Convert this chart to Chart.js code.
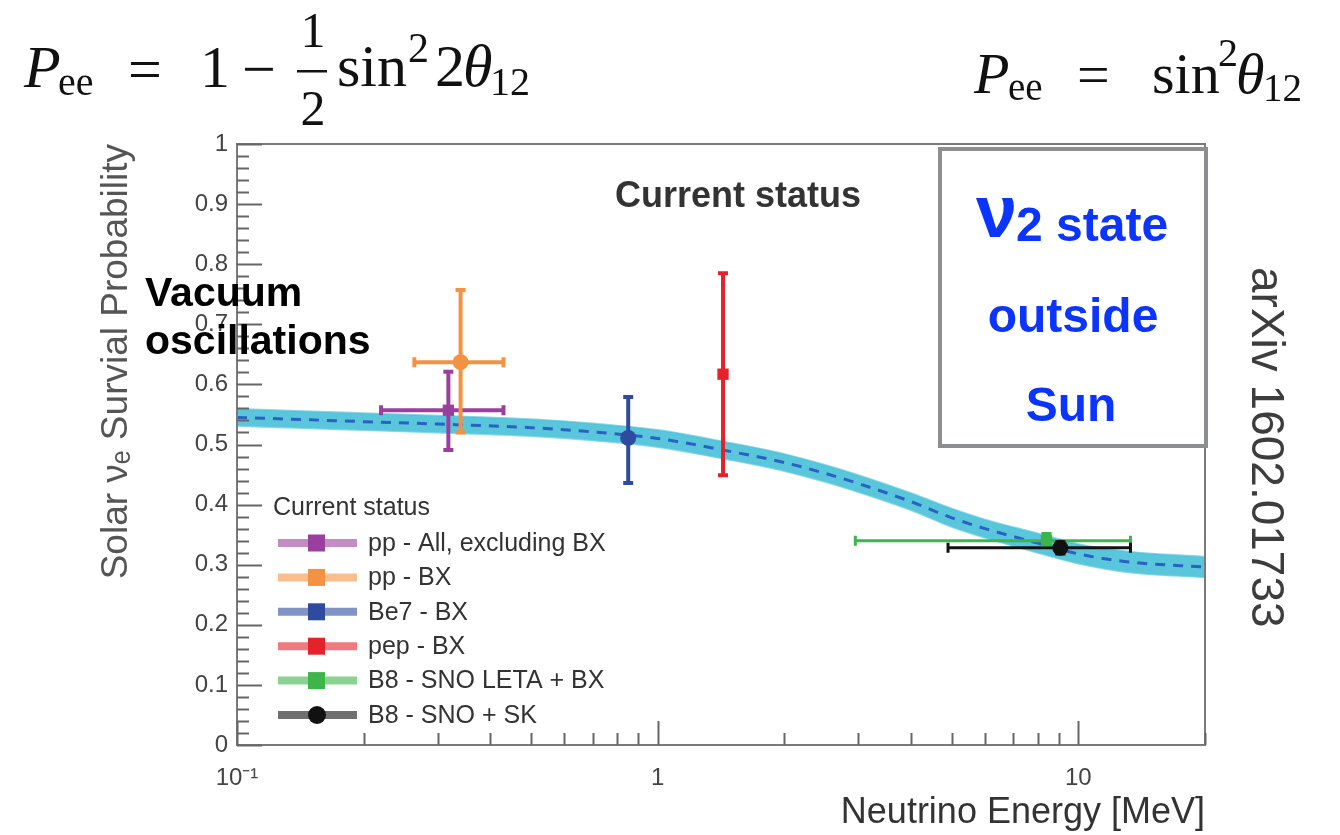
<!DOCTYPE html>
<html>
<head>
<meta charset="utf-8">
<script src="https://cdn.jsdelivr.net/npm/chart.js@4.4.1/dist/chart.umd.min.js"></script>
<style>
  html, body { margin: 0; padding: 0; background: #fff; }
  #wrap { position: relative; width: 1340px; height: 835px; }
</style>
</head>
<body>
<div id="wrap"><canvas id="chart" width="1340" height="835"></canvas></div>
<script>
// prediction band (MSW-LMA)
const curveEnergy = [0.1, 0.15, 0.2, 0.3, 0.5, 0.7, 1.0, 1.5, 2.0, 2.5, 3.0, 4.0, 5.0, 6.0, 8.0, 10, 13, 20];
const curveProb   = [0.545, 0.541, 0.538, 0.534, 0.528, 0.521, 0.510, 0.488, 0.470, 0.452, 0.435, 0.405, 0.378, 0.360, 0.336, 0.318, 0.305, 0.296];
const curveUpper  = [0.559, 0.555, 0.552, 0.548, 0.542, 0.535, 0.524, 0.502, 0.484, 0.466, 0.449, 0.419, 0.393, 0.375, 0.352, 0.334, 0.322, 0.313];
const curveLower  = [0.531, 0.527, 0.524, 0.520, 0.514, 0.507, 0.496, 0.474, 0.456, 0.438, 0.421, 0.391, 0.363, 0.345, 0.320, 0.302, 0.288, 0.279];

// measurements
const seriesNames   = ['pp - All, excluding BX', 'pp - BX', 'Be7 - BX', 'pep - BX', 'B8 - SNO LETA + BX', 'B8 - SNO + SK'];
const seriesColors  = ['#9b3f9f', '#f39242', '#2f4b9f', '#e5222c', '#3db54a', '#111111'];
const seriesMarkers = ['rect', 'circle', 'circle', 'rect', 'rect', 'circle'];
const energy     = [0.318, 0.34, 0.851, 1.43, 8.4, 9.06];
const energyLow  = [0.22, 0.264, 0.851, 1.43, 2.95, 4.9];
const energyHigh = [0.43, 0.43, 0.851, 1.43, 13.3, 13.3];
const prob     = [0.557, 0.637, 0.511, 0.617, 0.340, 0.328];
const probLow  = [0.491, 0.52, 0.436, 0.449, 0.332, 0.318];
const probHigh = [0.621, 0.757, 0.579, 0.785, 0.352, 0.338];

// axes
const xMajorTicks = [0.1, 1, 10];
const xTickLabels = ['10\u207B\u00B9', '1', '10'];
const yTicks = [0, 0.1, 0.2, 0.3, 0.4, 0.5, 0.6, 0.7, 0.8, 0.9, 1];
const yTickLabels = ['0', '0.1', '0.2', '0.3', '0.4', '0.5', '0.6', '0.7', '0.8', '0.9', '1'];

const SANS = '"Liberation Sans", Arial, Helvetica, sans-serif';
const SERIF = '"Liberation Serif", "Times New Roman", serif';

function pts(xs, ys) {
    return xs.map((x, i) => ({ x: x, y: ys[i] }));
}

const datasets = [];
// markers first (low order = drawn on top)
seriesNames.forEach((name, i) => {
    datasets.push({
        label: name,
        data: [{ x: energy[i], y: prob[i] }],
        pointStyle: seriesMarkers[i],
        pointRadius: 8,
        pointHoverRadius: 8,
        backgroundColor: seriesColors[i],
        borderWidth: 0,
        order: 1
    });
});
const fitIndex = datasets.length;
datasets.push({
    label: 'fit',
    data: pts(curveEnergy, curveProb),
    showLine: true,
    pointRadius: 0,
    borderColor: '#2a62c2',
    borderWidth: 3,
    borderDash: [10, 8],
    cubicInterpolationMode: 'monotone',
    fill: false,
    order: 8
});
datasets.push({
    label: 'band upper',
    data: pts(curveEnergy, curveUpper),
    showLine: true,
    pointRadius: 0,
    borderColor: 'rgba(90,200,222,0.7)',
    borderWidth: 2,
    cubicInterpolationMode: 'monotone',
    fill: false,
    order: 10
});
datasets.push({
    label: 'band lower',
    data: pts(curveEnergy, curveLower),
    showLine: true,
    pointRadius: 0,
    borderColor: 'rgba(90,200,222,0.7)',
    borderWidth: 2,
    backgroundColor: 'rgba(72,192,216,0.9)',
    cubicInterpolationMode: 'monotone',
    fill: '-1',
    order: 9
});

// error bars, drawn just before the markers
function drawErrorBars(chart) {
    const ctx = chart.ctx;
    const xs = chart.scales.x, ys = chart.scales.y;
    ctx.save();
    seriesNames.forEach((name, i) => {
        const px = xs.getPixelForValue(energy[i]);
        const py = ys.getPixelForValue(prob[i]);
        ctx.strokeStyle = seriesColors[i];
        ctx.lineWidth = i >= 4 ? 3 : 4;
        ctx.beginPath();
        // vertical
        const yTop = ys.getPixelForValue(probHigh[i]);
        const yBot = ys.getPixelForValue(probLow[i]);
        ctx.moveTo(px, yTop); ctx.lineTo(px, yBot);
        if (yBot - yTop > 12) {
            ctx.moveTo(px - 5, yTop); ctx.lineTo(px + 5, yTop);
            ctx.moveTo(px - 5, yBot); ctx.lineTo(px + 5, yBot);
        }
        // horizontal
        const xL = xs.getPixelForValue(energyLow[i]);
        const xR = xs.getPixelForValue(energyHigh[i]);
        if (xR - xL > 2) {
            ctx.moveTo(xL, py); ctx.lineTo(xR, py);
            ctx.moveTo(xL, py - 5); ctx.lineTo(xL, py + 5);
            ctx.moveTo(xR, py - 5); ctx.lineTo(xR, py + 5);
        }
        ctx.stroke();
    });
    ctx.restore();
}

function drawLegend(ctx) {
    ctx.save();
    ctx.fillStyle = '#333';
    ctx.font = '25px ' + SANS;
    ctx.textBaseline = 'middle';
    ctx.textAlign = 'left';
    ctx.fillText('Current status', 273, 508);
    seriesNames.forEach((name, i) => {
        const y = 543 + i * 34.4;
        ctx.globalAlpha = 0.6;
        ctx.strokeStyle = seriesColors[i];
        ctx.lineWidth = 8;
        ctx.beginPath();
        ctx.moveTo(278, y); ctx.lineTo(357, y);
        ctx.stroke();
        ctx.globalAlpha = 1;
        ctx.fillStyle = seriesColors[i];
        if (i === 5) {
            ctx.beginPath(); ctx.arc(317, y, 9, 0, Math.PI * 2); ctx.fill();
        } else {
            ctx.fillRect(308, y - 8.5, 17, 17);
        }
        ctx.fillStyle = '#333';
        ctx.fillText(name, 368, y + 1);
    });
    ctx.restore();
}

function drawFormulas(ctx) {
    ctx.save();
    ctx.fillStyle = '#111';
    ctx.textBaseline = 'alphabetic';
    ctx.textAlign = 'left';
    // P_ee = 1 - 1/2 sin^2 2theta_12
    let big = '60px ' + SERIF, ibig = 'italic 60px ' + SERIF, sub = '40px ' + SERIF;
    ctx.font = ibig; ctx.fillText('P', 24, 87);
    ctx.font = sub; ctx.fillText('ee', 58, 95);
    ctx.font = big; ctx.fillText('=', 128, 89);
    ctx.fillText('1', 200, 87);
    ctx.fillText('\u2212', 242, 89);
    ctx.font = '50px ' + SERIF; ctx.textAlign = 'center';
    ctx.fillText('1', 313, 47);
    ctx.fillText('2', 313, 125);
    ctx.fillRect(297, 70, 30, 2.5);
    ctx.textAlign = 'left';
    ctx.font = big; ctx.fillText('sin', 337, 86);
    ctx.font = '42px ' + SERIF; ctx.fillText('2', 408, 62);
    ctx.font = big; ctx.fillText('2', 435, 86);
    ctx.font = ibig; ctx.fillText('\u03B8', 463, 86);
    ctx.font = sub; ctx.fillText('12', 490, 95);
    // P_ee = sin^2 theta_12
    big = '58px ' + SERIF; ibig = 'italic 58px ' + SERIF; sub = '39px ' + SERIF;
    ctx.font = ibig; ctx.fillText('P', 974, 93);
    ctx.font = sub; ctx.fillText('ee', 1008, 100);
    ctx.font = big; ctx.fillText('=', 1077, 94);
    ctx.fillText('sin', 1152, 93);
    ctx.font = '40px ' + SERIF; ctx.fillText('2', 1218, 66);
    ctx.font = ibig; ctx.fillText('\u03B8', 1236, 93);
    ctx.font = sub; ctx.fillText('12', 1263, 101);
    ctx.restore();
}

const decorPlugin = {
    id: 'decor',
    beforeDraw(chart) {
        const ctx = chart.ctx;
        ctx.save();
        ctx.fillStyle = '#fff';
        ctx.fillRect(0, 0, chart.width, chart.height);
        ctx.restore();
    },
    afterDatasetDraw(chart, args) {
        if (args.index === fitIndex) drawErrorBars(chart);
    },
    afterDraw(chart) {
        const ctx = chart.ctx;
        const a = chart.chartArea;
        const xs = chart.scales.x, ys = chart.scales.y;
        ctx.save();
        // frame
        ctx.strokeStyle = '#7a7a7a';
        ctx.lineWidth = 2;
        ctx.strokeRect(a.left, a.top, a.right - a.left, a.bottom - a.top);
        // inward ticks
        ctx.strokeStyle = '#666';
        ctx.beginPath();
        for (let k = 0; k <= 50; k++) {
            const py = Math.round(ys.getPixelForValue(k * 0.02)) + 0.5;
            const len = (k % 5 === 0) ? 25 : 12;
            ctx.moveTo(a.left, py); ctx.lineTo(a.left + len, py);
        }
        for (let d = 0.1; d < 20; d *= 10) {
            for (let m = 1; m <= 9; m++) {
                const v = d * m;
                if (v > 20.0001) break;
                const px = Math.round(xs.getPixelForValue(v)) + 0.5;
                const len = m === 1 ? 24 : 12;
                ctx.moveTo(px, a.bottom); ctx.lineTo(px, a.bottom - len);
            }
        }
        ctx.stroke();

        // plot title
        ctx.fillStyle = '#333';
        ctx.font = 'bold 36px ' + SANS;
        ctx.textAlign = 'center';
        ctx.textBaseline = 'alphabetic';
        ctx.fillText('Current status', 738, 207);

        drawLegend(ctx);

        // Vacuum oscillations
        ctx.fillStyle = '#000';
        ctx.font = 'bold 41px ' + SANS;
        ctx.textAlign = 'left';
        ctx.fillText('Vacuum', 145, 306);
        ctx.fillText('oscillations', 145, 354);

        // nu_2 box
        ctx.fillStyle = '#fff';
        ctx.fillRect(940, 149, 266, 297);
        ctx.strokeStyle = '#8c8e91';
        ctx.lineWidth = 4;
        ctx.strokeRect(940, 149, 266, 297);
        ctx.fillStyle = '#0b34ff';
        ctx.font = 'bold 74px ' + SANS;
        ctx.fillText('\u03BD', 976, 237);
        ctx.font = 'bold 48px ' + SANS;
        ctx.fillText('2 state', 1016, 241);
        ctx.textAlign = 'center';
        ctx.fillText('outside', 1073, 332);
        ctx.fillText('Sun', 1071, 421);

        // arXiv reference
        ctx.save();
        ctx.translate(1265, 267);
        ctx.rotate(Math.PI / 2);
        ctx.fillStyle = '#3d3d3d';
        ctx.font = '46px ' + SANS;
        ctx.textAlign = 'left';
        ctx.textBaseline = 'middle';
        ctx.fillText('arXiv 1602.01733', 0, 0);
        ctx.restore();

        drawFormulas(ctx);
        ctx.restore();
    }
};

new Chart(document.getElementById('chart'), {
    type: 'scatter',
    data: { datasets: datasets },
    options: {
        responsive: false,
        animation: false,
        events: [],
        layout: { padding: { left: 95, right: 135, top: 144, bottom: 0 } },
        plugins: { legend: { display: false }, tooltip: { enabled: false } },
        scales: {
            x: {
                type: 'logarithmic',
                min: 0.1,
                max: 20,
                grid: { display: false, drawTicks: false },
                border: { display: false },
                afterBuildTicks: s => { s.ticks = xMajorTicks.map(v => ({ value: v })); },
                afterFit: s => { s.height = 90; },
                ticks: {
                    autoSkip: false,
                    maxRotation: 0,
                    padding: 19,
                    color: '#444',
                    font: { family: SANS, size: 24 },
                    callback: (v, i) => xTickLabels[i]
                },
                title: {
                    display: true,
                    text: 'Neutrino Energy [MeV]',
                    align: 'end',
                    color: '#333',
                    padding: { top: 0, bottom: 0 },
                    font: { family: SANS, size: 36 }
                }
            },
            y: {
                min: 0,
                max: 1,
                grid: { display: false, drawTicks: false },
                border: { display: false },
                afterBuildTicks: s => { s.ticks = yTicks.map(v => ({ value: v })); },
                afterFit: s => { s.width = 142; },
                ticks: {
                    padding: 9,
                    color: '#444',
                    font: { family: SANS, size: 24 },
                    callback: (v, i) => yTickLabels[i]
                },
                title: {
                    display: true,
                    text: 'Solar \u03BD\u2091 Survial Probability',
                    align: 'end',
                    color: '#555',
                    padding: { top: 0, bottom: 0 },
                    font: { family: SANS, size: 37 }
                }
            }
        }
    },
    plugins: [decorPlugin]
});
</script>
</body>
</html>
